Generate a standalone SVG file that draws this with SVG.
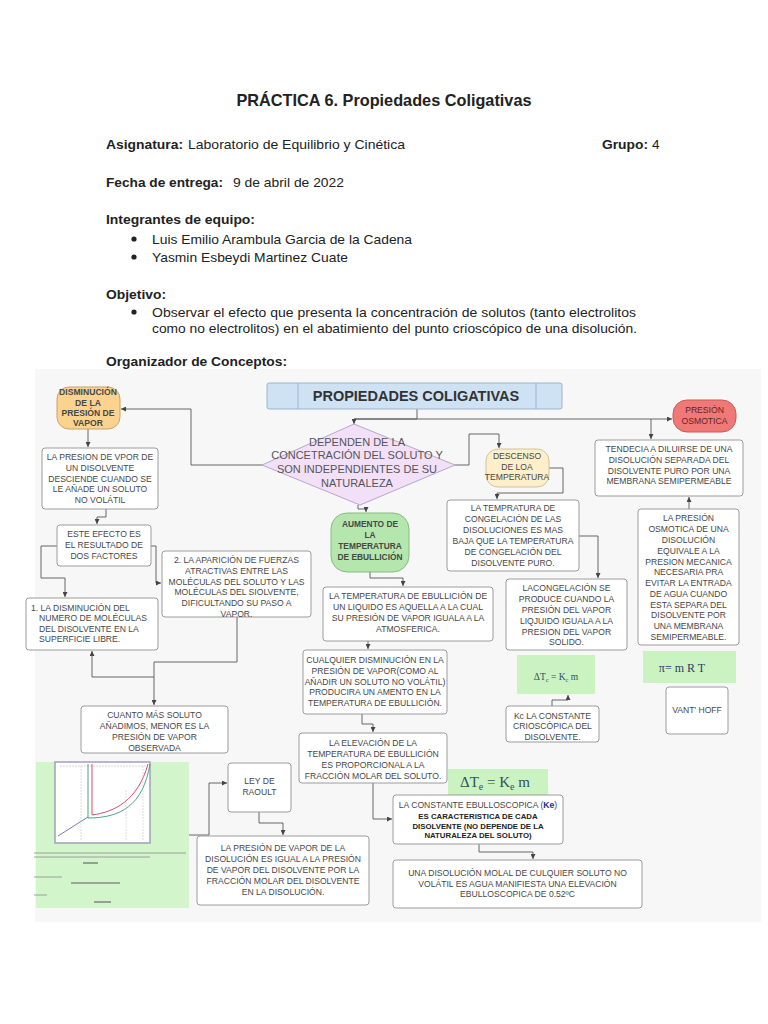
<svg xmlns="http://www.w3.org/2000/svg" width="768" height="1024" viewBox="0 0 768 1024">
<style>
.h{font-family:"Liberation Sans",Arial,sans-serif;font-size:13.6px;fill:#222}
.hb{font-weight:bold}
.box{fill:#fff;stroke:#9c9c9c;stroke-width:1}
.t{font-family:"Liberation Sans",Arial,sans-serif;font-size:8.6px;fill:#474747;text-anchor:middle}
.tb{font-weight:bold}
.c{fill:none;stroke:#555;stroke-width:0.9;marker-end:url(#ah)}
.g{fill:#cbf3c2}
.f{font-family:"Liberation Serif","Times New Roman",serif;fill:#2f5060;text-anchor:middle}
</style>
<defs>
<marker id="ah" markerWidth="5" markerHeight="5" refX="5" refY="2.5" orient="auto" markerUnits="userSpaceOnUse">
<path d="M0,0 L5,2.5 L0,5 z" fill="#444"/>
</marker>
</defs>
<rect width="768" height="1024" fill="#fff"/>

<g id="header">
<text class="h hb" x="384" y="106" text-anchor="middle" style="font-size:16.2px" textLength="295" lengthAdjust="spacingAndGlyphs">PRÁCTICA 6. Propiedades Coligativas</text>
<text class="h hb" x="106" y="149" textLength="77" lengthAdjust="spacingAndGlyphs">Asignatura:</text>
<text class="h" x="188" y="149" textLength="217" lengthAdjust="spacingAndGlyphs">Laboratorio de Equilibrio y Cinética</text>
<text class="h hb" x="602" y="149" textLength="46" lengthAdjust="spacingAndGlyphs">Grupo:</text>
<text class="h" x="652" y="149">4</text>
<text class="h hb" x="106" y="187" textLength="117" lengthAdjust="spacingAndGlyphs">Fecha de entrega:</text>
<text class="h" x="233" y="187" textLength="111" lengthAdjust="spacingAndGlyphs">9 de abril de 2022</text>
<text class="h hb" x="106" y="224" textLength="149" lengthAdjust="spacingAndGlyphs">Integrantes de equipo:</text>
<circle cx="134" cy="239" r="2.6" fill="#222"/>
<text class="h" x="152" y="244" textLength="260" lengthAdjust="spacingAndGlyphs">Luis Emilio Arambula Garcia de la Cadena</text>
<circle cx="134" cy="257" r="2.6" fill="#222"/>
<text class="h" x="152" y="262" textLength="196" lengthAdjust="spacingAndGlyphs">Yasmin Esbeydi Martinez Cuate</text>
<text class="h hb" x="106" y="299" textLength="60" lengthAdjust="spacingAndGlyphs">Objetivo:</text>
<circle cx="134" cy="312" r="2.6" fill="#222"/>
<text class="h" x="152" y="317" textLength="484" lengthAdjust="spacingAndGlyphs">Observar el efecto que presenta la concentración de solutos (tanto electrolitos</text>
<text class="h" x="152" y="333" textLength="485" lengthAdjust="spacingAndGlyphs">como no electrolitos) en el abatimiento del punto crioscópico de una disolución.</text>
<text class="h hb" x="106" y="366" textLength="181" lengthAdjust="spacingAndGlyphs">Organizador de Conceptos:</text>
</g>

<rect x="35" y="369" width="726" height="553" fill="#f7f7f7"/>

<g id="connectors">
<path class="c" d="M417,409 V419 H354 V424"/>
<path class="c" d="M354,419 H672"/>
<path class="c" d="M651,419 V439"/>
<path class="c" d="M262,465 H191 V409 H121"/>
<path class="c" d="M88,429 V447"/>
<path class="c" d="M106,509 V517 H97 V524"/>
<path class="c" d="M57,546 H41 V578 H65 V597"/>
<path class="c" d="M151,546 H156 V583 H161"/>
<path class="c" d="M237,617 V662 H154 V705"/>
<path class="c" d="M154,677 H92 V651"/>
<path class="c" d="M358,505 V509 H366 V512"/>
<path class="c" d="M455,465 H469 V434 H499 V448"/>
<path class="c" d="M549,468 H563 V493 H497 V499"/>
<path class="c" d="M579,536 H598 V578"/>
<path class="c" d="M370,572 V578 H403 V586"/>
<path class="c" d="M368,641 V649"/>
<path class="c" d="M362,714 V724 H373 V732"/>
<path class="c" d="M373,783 V819 H392"/>
<path class="c" d="M479,844 V852 H533 V859"/>
<path class="c" d="M552,706 V700 H568 V695"/>
<path class="c" d="M689,509 V497"/>
<path class="c" d="M189,835 H209 V783 H227"/>
<path class="c" d="M259,812 V823 H283 V835"/>
</g>

<g id="propiedades">
<rect x="267" y="383" width="295" height="26" rx="2" fill="#cfe2f3" stroke="#9db4cf"/>
<line x1="298" y1="383" x2="298" y2="409" stroke="#9db4cf"/>
<line x1="536" y1="383" x2="536" y2="409" stroke="#9db4cf"/>
<text class="t tb" x="416" y="401" style="font-size:14.5px;fill:#333">PROPIEDADES COLIGATIVAS</text>
</g>

<g id="disminucion">
<rect x="57" y="387" width="63" height="42" rx="12" fill="#fbd38f" stroke="#c9a36a"/>
<text class="t tb" x="88"><tspan x="88" y="395">DISMINUCIÓN</tspan><tspan x="88" y="406">DE LA</tspan><tspan x="88" y="416">PRESIÓN DE</tspan><tspan x="88" y="426">VAPOR</tspan></text>
</g>

<g id="dependen">
<polygon points="354,424 455,465 360,505 262,465" fill="#f1e0f8" stroke="#b9a6c9"/>
<text class="t" style="font-size:11px;fill:#555"><tspan x="357" y="446">DEPENDEN DE LA</tspan><tspan x="357" y="459">CONCETRACIÓN DEL SOLUTO Y</tspan><tspan x="357" y="473">SON INDEPENDIENTES DE SU</tspan><tspan x="357" y="487">NATURALEZA</tspan></text>
</g>

<g id="aumento">
<rect x="331" y="513" width="78" height="59" rx="16" fill="#b5e6ae" stroke="#86bb80"/>
<text class="t tb" style="font-size:8.4px"><tspan x="370" y="527">AUMENTO DE</tspan><tspan x="370" y="538">LA</tspan><tspan x="370" y="549">TEMPERATURA</tspan><tspan x="370" y="560">DE EBULLICIÓN</tspan></text>
</g>

<g id="descenso">
<rect x="486" y="449" width="63" height="38" rx="12" fill="#fdefc9" stroke="#d3c39a"/>
<text class="t"><tspan x="517" y="459">DESCENSO</tspan><tspan x="517" y="470">DE LOA</tspan><tspan x="517" y="480">TEMPERATURA</tspan></text>
</g>

<g id="presion-osmotica">
<rect x="673" y="400" width="63" height="32" rx="14" fill="#f07876" stroke="#c95a58"/>
<text class="t" style="fill:#5e2626"><tspan x="704.5" y="413">PRESIÓN</tspan><tspan x="704.5" y="424">OSMOTICA</tspan></text>
</g>

<g id="tendencia">
<rect class="box" x="595" y="440" width="148" height="56" rx="3"/>
<text class="t"><tspan x="669" y="452">TENDECIA A DILUIRSE DE UNA</tspan><tspan x="669" y="463">DISOLUCIÓN SEPARADA DEL</tspan><tspan x="669" y="474">DISOLVENTE PURO POR UNA</tspan><tspan x="669" y="484">MEMBRANA SEMIPERMEABLE</tspan></text>
</g>

<g id="temp-congelacion">
<rect class="box" x="447" y="500" width="132" height="71" rx="3"/>
<text class="t"><tspan x="513" y="511">LA TEMPRATURA DE</tspan><tspan x="513" y="522">CONGELACIÓN DE LAS</tspan><tspan x="513" y="533">DISOLUCIONES ES MAS</tspan><tspan x="513" y="544">BAJA QUE LA TEMPERATURA</tspan><tspan x="513" y="555">DE CONGELACIÓN DEL</tspan><tspan x="513" y="566">DISOLVENTE PURO.</tspan></text>
</g>

<g id="presion-osmotica-def">
<rect class="box" x="638" y="509" width="101" height="136" rx="3"/>
<text class="t"><tspan x="688.5" y="521">LA PRESIÓN</tspan><tspan x="688.5" y="532">OSMOTICA DE UNA</tspan><tspan x="688.5" y="543">DISOLUCIÓN</tspan><tspan x="688.5" y="554">EQUIVALE A LA</tspan><tspan x="688.5" y="565">PRESION MECANICA</tspan><tspan x="688.5" y="575">NECESARIA PRA</tspan><tspan x="688.5" y="586">EVITAR LA ENTRADA</tspan><tspan x="688.5" y="597">DE AGUA CUANDO</tspan><tspan x="688.5" y="608">ESTA SEPARA DEL</tspan><tspan x="688.5" y="618">DISOLVENTE POR</tspan><tspan x="688.5" y="629">UNA MEMBRANA</tspan><tspan x="688.5" y="640">SEMIPERMEABLE.</tspan></text>
</g>

<g id="presion-vapor-desciende">
<rect class="box" x="42" y="448" width="116" height="61" rx="3"/>
<text class="t"><tspan x="100" y="460">LA PRESION DE VPOR DE</tspan><tspan x="100" y="471">UN DISOLVENTE</tspan><tspan x="100" y="482">DESCIENDE CUANDO SE</tspan><tspan x="100" y="492">LE AÑADE UN SOLUTO</tspan><tspan x="100" y="503">NO VOLÁTIL</tspan></text>
</g>

<g id="este-efecto">
<rect class="box" x="57" y="525" width="94" height="41" rx="3"/>
<text class="t"><tspan x="104" y="537">ESTE EFECTO ES</tspan><tspan x="104" y="548">EL RESULTADO DE</tspan><tspan x="104" y="559">DOS FACTORES</tspan></text>
</g>

<g id="factor-2">
<rect class="box" x="162" y="551" width="149" height="66" rx="3"/>
<text class="t"><tspan x="236.5" y="563">2. LA APARICIÓN DE FUERZAS</tspan><tspan x="236.5" y="574">ATRACTIVAS ENTRE LAS</tspan><tspan x="236.5" y="585">MOLÉCULAS DEL SOLUTO Y LAS</tspan><tspan x="236.5" y="595">MOLÉCULAS  DEL SIOLVENTE,</tspan><tspan x="236.5" y="606">DIFICULTANDO SU PASO A</tspan><tspan x="236.5" y="617">VAPOR.</tspan></text>
</g>

<g id="factor-1">
<rect class="box" x="26" y="598" width="132" height="52" rx="3"/>
<text class="t" style="text-anchor:start"><tspan x="31" y="611">1. LA DISMINUCIÓN DEL</tspan><tspan x="39" y="621">NUMERO DE MOLÉCULAS</tspan><tspan x="39" y="632">DEL DISOLVENTE EN LA</tspan><tspan x="39" y="642">SUPERFICIE LIBRE.</tspan></text>
</g>

<g id="cuanto-mas">
<rect class="box" x="81" y="706" width="147" height="47" rx="3"/>
<text class="t"><tspan x="154.5" y="718">CUANTO MÁS SOLUTO</tspan><tspan x="154.5" y="729">AÑADIMOS, MENOR ES LA</tspan><tspan x="154.5" y="740">PRESIÓN DE VAPOR</tspan><tspan x="154.5" y="751">OBSERVADA</tspan></text>
</g>

<g id="temp-ebullicion">
<rect class="box" x="323" y="587" width="170" height="54" rx="3"/>
<text class="t"><tspan x="408" y="599">LA TEMPERATURA DE EBULLICIÓN DE</tspan><tspan x="408" y="610">UN LIQUIDO ES AQUELLA A LA CUAL</tspan><tspan x="408" y="621">SU PRESIÓN DE VAPOR IGUALA A LA</tspan><tspan x="408" y="632">ATMOSFERICA.</tspan></text>
</g>

<g id="cualquier">
<rect class="box" x="303" y="650" width="144" height="64" rx="3"/>
<text class="t"><tspan x="375" y="663">CUALQUIER DISMINUCIÓN EN LA</tspan><tspan x="375" y="674">PRESIÓN DE VAPOR(COMO AL</tspan><tspan x="375" y="685">AÑADIR UN SOLUTO NO VOLÁTIL)</tspan><tspan x="375" y="695">PRODUCIRA UN AMENTO EN LA</tspan><tspan x="375" y="706">TEMPERATURA DE EBULLICIÓN.</tspan></text>
</g>

<g id="elevacion">
<rect class="box" x="299" y="733" width="148" height="50" rx="3"/>
<text class="t"><tspan x="373" y="746">LA ELEVACIÓN DE LA</tspan><tspan x="373" y="757">TEMPERATURA DE EBULLICIÓN</tspan><tspan x="373" y="768">ES PROPORCIONAL A LA</tspan><tspan x="373" y="779">FRACCIÓN MOLAR DEL SOLUTO.</tspan></text>
</g>

<g id="lacongelacion">
<rect class="box" x="506" y="579" width="121" height="71" rx="3"/>
<text class="t"><tspan x="566.5" y="591">LACONGELACIÓN SE</tspan><tspan x="566.5" y="602">PRODUCE CUANDO LA</tspan><tspan x="566.5" y="613">PRESIÓN DEL VAPOR</tspan><tspan x="566.5" y="624">LIQJUIDO IGUALA A LA</tspan><tspan x="566.5" y="635">PRESION DEL VAPOR</tspan><tspan x="566.5" y="645">SOLIDO.</tspan></text>
</g>

<g id="formula-tc">
<rect class="g" x="517" y="655" width="78" height="39"/>
<text class="f" x="556" y="680" style="font-size:9.5px">ΔT<tspan dy="2" style="font-size:6.5px">c</tspan><tspan dy="-2"> = K</tspan><tspan dy="2" style="font-size:6.5px">c</tspan><tspan dy="-2"> m</tspan></text>
</g>

<g id="kc">
<rect class="box" x="506" y="706" width="93" height="36" rx="3"/>
<text class="t"><tspan x="552.5" y="719">Kc LA CONSTANTE</tspan><tspan x="552.5" y="729">CRIOSCÒPICA DEL</tspan><tspan x="552.5" y="740">DISOLVENTE.</tspan></text>
</g>

<g id="formula-pi">
<rect class="g" x="643" y="651" width="93" height="32"/>
<text class="f" x="682" y="672" style="font-size:12px;fill:#2c3c6a">π= m R T</text>
</g>

<g id="vant-hoff">
<rect class="box" x="666" y="687" width="62" height="47" rx="3"/>
<text class="t" x="697" y="713">VANT' HOFF</text>
</g>

<g id="raoult-figure">
<rect x="36" y="762" width="153" height="146" fill="#d3f5cb"/>
<rect x="55" y="762" width="95" height="81" fill="#fff" stroke="#a3a0b8" stroke-width="1.5"/>
<line x1="60" y1="766" x2="148" y2="766" stroke="#bbb" stroke-width="0.6" stroke-dasharray="2,1"/>
<line x1="92" y1="764" x2="92" y2="815" stroke="#d0506a" stroke-width="1"/>
<path d="M92,815 C115,812 138,800 148,764" fill="none" stroke="#d0506a" stroke-width="1"/>
<line x1="88" y1="764" x2="88" y2="818" stroke="#3a9a78" stroke-width="0.9"/>
<path d="M88,818 C120,818 143,806 150,764" fill="none" stroke="#3a9a78" stroke-width="0.9"/>
<path d="M58,836 L88,817" fill="none" stroke="#6670aa" stroke-width="0.9"/>
<line x1="81" y1="766" x2="81" y2="840" stroke="#bbb" stroke-width="0.5" stroke-dasharray="2,1"/>
<line x1="126" y1="790" x2="126" y2="840" stroke="#bbb" stroke-width="0.5" stroke-dasharray="2,1"/>
<line x1="143" y1="766" x2="143" y2="840" stroke="#bbb" stroke-width="0.5" stroke-dasharray="2,1"/>
<g stroke="#8a8a8a" stroke-width="0.8">
<line x1="34" y1="853" x2="186" y2="853"/>
<line x1="34" y1="857" x2="150" y2="857"/>
<line x1="83" y1="863" x2="98" y2="863" stroke-width="1.6"/>
<line x1="34" y1="877" x2="62" y2="877"/>
<line x1="71" y1="883" x2="120" y2="883" stroke-width="1.6"/>
<line x1="34" y1="895" x2="47" y2="895"/>
<line x1="94" y1="902" x2="111" y2="902" stroke-width="1.6"/>
</g>
</g>

<g id="ley-raoult">
<rect class="box" x="228" y="763" width="63" height="49" rx="3"/>
<text class="t"><tspan x="259.5" y="784">LEY DE</tspan><tspan x="259.5" y="795">RAOULT</tspan></text>
</g>

<g id="presion-vapor-disolucion">
<rect class="box" x="197" y="836" width="172" height="69" rx="3"/>
<text class="t"><tspan x="283" y="851">LA PRESIÓN DE VAPOR DE LA</tspan><tspan x="283" y="862">DISOLUCIÓN ES IGUAL A LA PRESIÓN</tspan><tspan x="283" y="873">DE VAPOR DEL DISOLVENTE POR LA</tspan><tspan x="283" y="884">FRACCIÓN MOLAR DEL DISOLVENTE</tspan><tspan x="283" y="895">EN LA DISOLUCIÓN.</tspan></text>
</g>

<g id="formula-te">
<rect class="g" x="448" y="769" width="100" height="27"/>
<text class="f" x="495" y="787" style="font-size:15px">ΔT<tspan dy="3" style="font-size:10px">e</tspan><tspan dy="-3"> = K</tspan><tspan dy="3" style="font-size:10px">e</tspan><tspan dy="-3"> m</tspan></text>
</g>

<g id="constante-ebulloscopica">
<rect class="box" x="393" y="795" width="170" height="49" rx="3"/>
<text class="t" x="478" y="808">LA CONSTANTE EBULLOSCOPICA (<tspan class="tb" style="fill:#1d2a8a">Ke</tspan>)</text>
<text class="t tb" style="font-size:7.8px;fill:#222"><tspan x="478" y="819">ES CARACTERISTICA DE CADA</tspan><tspan x="478" y="829">DISOLVENTE (NO DEPENDE DE LA</tspan><tspan x="478" y="838">NATURALEZA DEL SOLUTO)</tspan></text>
</g>

<g id="disolucion-molal">
<rect class="box" x="393" y="860" width="249" height="48" rx="3"/>
<text class="t"><tspan x="517.5" y="876">UNA DISOLUCIÓN MOLAL DE CULQUIER SOLUTO NO</tspan><tspan x="517.5" y="887">VOLÁTIL ES AGUA MANIFIESTA UNA ELEVACIÓN</tspan><tspan x="517.5" y="897">EBULLOSCOPICA DE 0.52ºC</tspan></text>
</g>
</svg>
